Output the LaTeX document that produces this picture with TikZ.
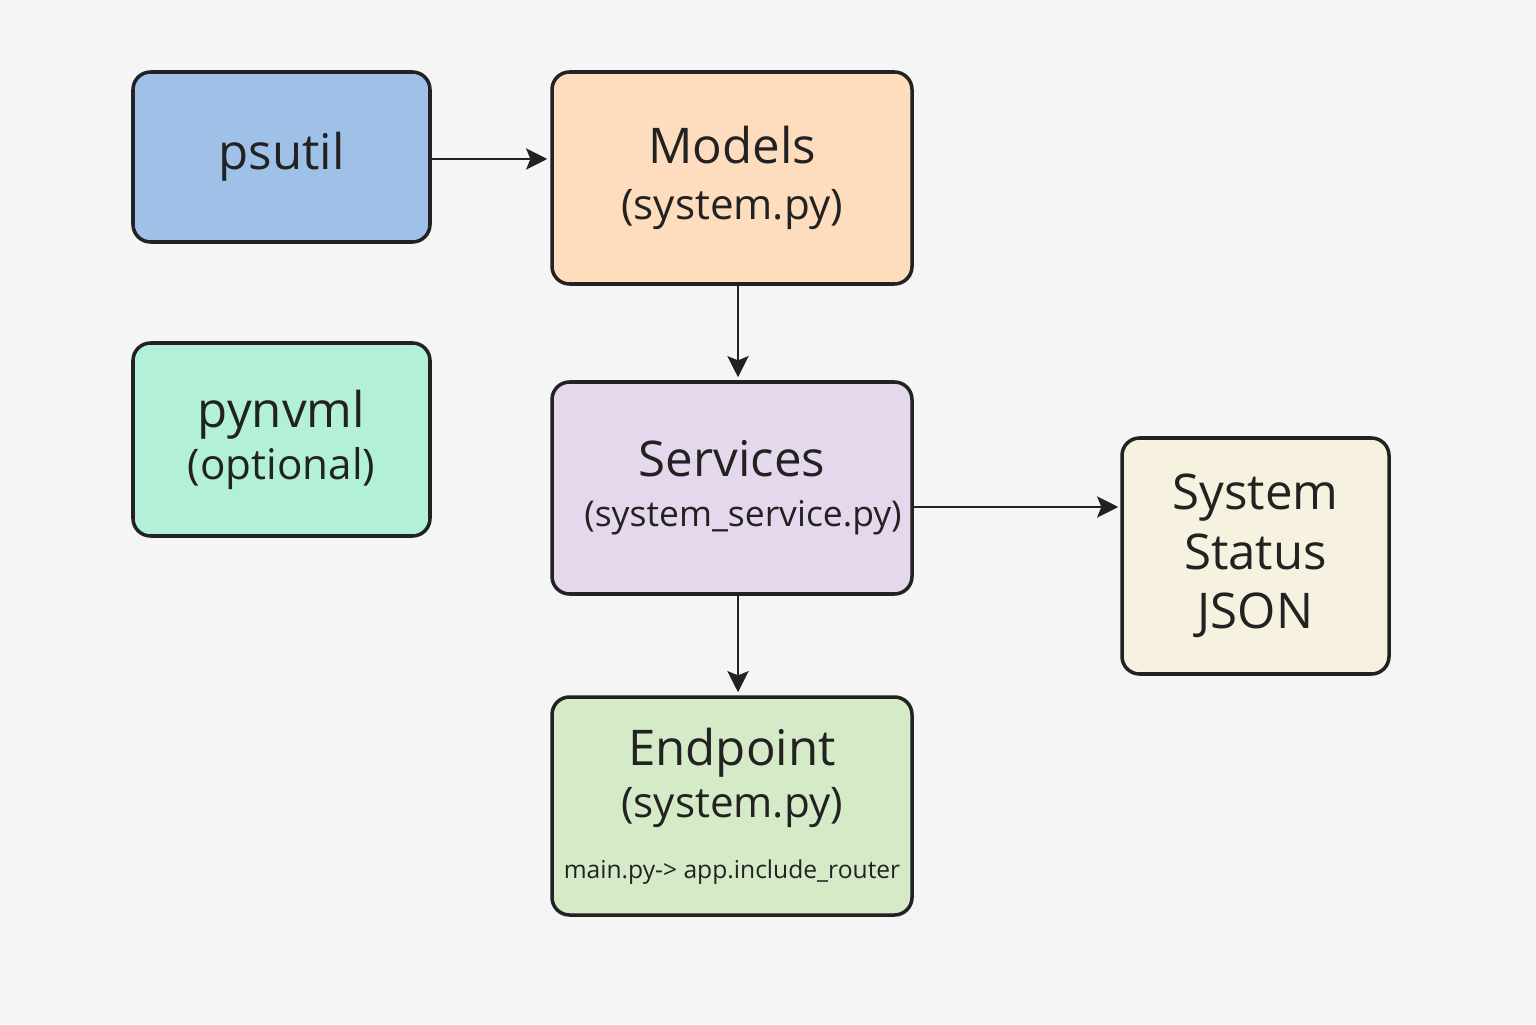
\documentclass[tikz,border=0pt]{standalone}
\usepackage{fontspec}
\setmainfont{Open Sans}
\usepackage{xcolor}
\usepackage{tikz}
\usetikzlibrary{arrows.meta,calc,positioning}
\definecolor{bg-grey}{RGB}{245,245,245}
\definecolor{line-dark}{RGB}{34,34,34}
\definecolor{psutil-blue}{RGB}{160,193,231}
\definecolor{models-peach}{RGB}{254,221,190}
\definecolor{pynvml-mint}{RGB}{178,241,216}
\definecolor{services-lilac}{RGB}{230,216,236}
\definecolor{status-cream}{RGB}{246,242,223}
\definecolor{endpoint-green}{RGB}{213,234,199}
\tikzstyle{box}=[draw=line-dark, line width=1pt, rounded corners=5pt, align=center, text=line-dark, inner sep=0pt, font=\mainlbl]
\tikzstyle{flow}=[draw=line-dark, line width=0.8pt, -{Stealth[length=6pt,width=6pt,inset=1.2pt]}]
\newcommand{\mainlbl}{\fontsize{14}{17}\selectfont}
\newcommand{\sublbl}{\fontsize{12}{15}\selectfont}
\newcommand{\tinylbl}{\fontsize{7}{9}\selectfont}
\begin{document}
\begin{tikzpicture}
	\fill[bg-grey] (0,0) rectangle (15.36,10.24);
	\useasboundingbox (0,0) rectangle (15.36,10.24);
	\node[box, fill=psutil-blue, minimum width=2.97cm, minimum height=1.70cm] (psutil) at (2.815,8.67) {psutil};
	\node[box, fill=models-peach, minimum width=3.60cm, minimum height=2.12cm] (models) at (7.32,8.46) {Models\\[-1.1pt]\sublbl (system.py)};
	\node[box, fill=pynvml-mint, minimum width=2.97cm, minimum height=1.93cm] (pynvml) at (2.815,5.845) {pynvml\\[-2.2pt]\sublbl (optional)};
	\node[box, fill=services-lilac, minimum width=3.60cm, minimum height=2.12cm] (services) at (7.32,5.36) {Services\\[-2.8pt]\hspace*{0.22cm}\fontsize{10.1}{13}\selectfont (system\_service.py)};
	\node[box, fill=status-cream, minimum width=2.67cm, minimum height=2.36cm] (status) at (12.555,4.68) {System\\Status\\JSON};
	\node[box, fill=endpoint-green, minimum width=3.60cm, minimum height=2.18cm] (endpoint) at (7.32,2.18) {Endpoint\\[-2.1pt]\sublbl (system.py)\\[0.2pt]\tinylbl main.py-> app.include\_router};
	\draw[flow] ($(psutil.east)+(0,-0.02)$) -- ($(psutil.east -| models.west)+(-0.03,-0.02)$);
	\draw[flow] ($(models.south)+(0.06,0)$) -- ($(services.north)+(0.06,0.03)$);
	\draw[flow] ($(services.east)+(0,-0.19)$) -- ($(services.east -| status.west)+(-0.02,-0.19)$);
	\draw[flow] ($(services.south)+(0.06,0)$) -- ($(endpoint.north)+(0.06,0.03)$);
\end{tikzpicture}
\end{document}
